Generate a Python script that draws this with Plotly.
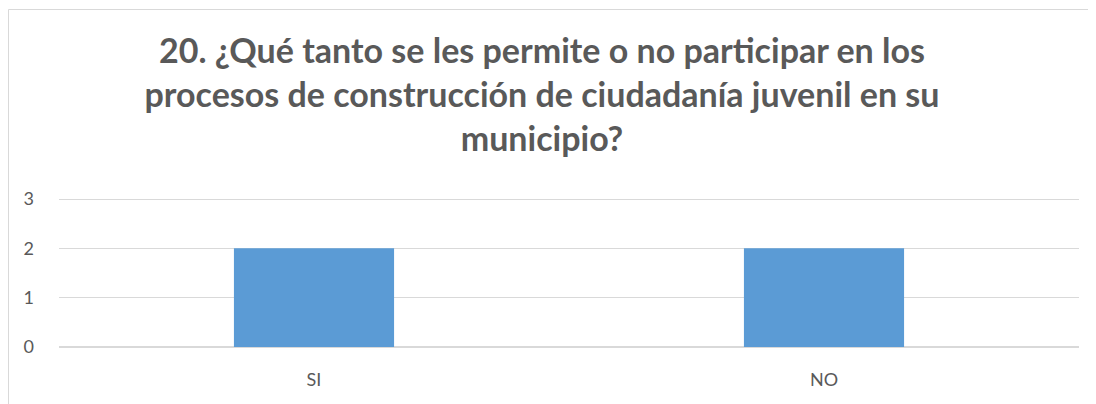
import plotly.graph_objects as go

categories = ["SI", "NO"]
values = [2, 2]
y_ticks = [0, 1, 2, 3]
title_lines = [
    "20. ¿Qué tanto se les permite o no participar en los",
    "procesos de construcción de ciudadanía juvenil en su",
    "municipio?",
]

# page has an 8px body margin; figure placed at (8, 8)
OFF = 8
W, H = 1096 - OFF, 404 - OFF
L, R, T, B = 59 - OFF, 17, 195 - OFF, 57
PW, PH = W - L - R, H - T - B
Y_MAX = 3 * (347 - 195) / 148  # small headroom so the top gridline is drawn

fig = go.Figure(
    go.Bar(
        x=categories,
        y=values,
        marker=dict(color="#5B9BD5", line=dict(width=0)),
        width=0.314,
    )
)

fig.update_layout(
    width=W,
    height=H,
    margin=dict(l=L, r=R, t=T, b=B, autoexpand=False),
    paper_bgcolor="white",
    plot_bgcolor="white",
    showlegend=False,
    title=dict(
        text="<br>".join(title_lines),
        font=dict(family="Lato", size=34, color="#595959", weight="bold"),
        x=(542 - OFF) / W,
        xanchor="center",
        xref="container",
        y=1 - 55 / H,
        yanchor="middle",
        yref="container",
    ),
    font=dict(family="Lato", size=18, color="#595959"),
    xaxis=dict(
        showgrid=False,
        showline=False,
        ticks="",
        tickfont=dict(size=18, color="#595959"),
        ticklabelstandoff=20,
        range=[-0.5, 1.5],
    ),
    yaxis=dict(
        range=[0, Y_MAX],
        tickvals=y_ticks,
        showgrid=True,
        gridcolor="#D9D9D9",
        gridwidth=1,
        zeroline=True,
        zerolinecolor="#D9D9D9",
        zerolinewidth=1.5,
        showline=False,
        ticks="",
        ticklabelstandoff=24,
        tickfont=dict(size=18, color="#595959"),
    ),
    shapes=[
        dict(
            type="rect",
            xref="paper",
            yref="paper",
            x0=(0.5 - L) / PW,
            x1=1.2,
            y0=-1.0,
            y1=(H - B - 1.5) / PH,
            line=dict(color="#D9D9D9", width=1),
            fillcolor="rgba(0,0,0,0)",
            layer="below",
        )
    ],
)

fig.write_html("out.html")
